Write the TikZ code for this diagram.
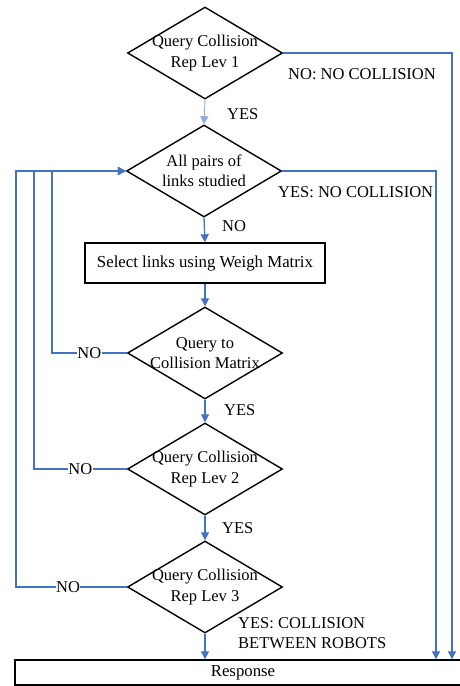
\documentclass[tikz,border=0pt]{standalone}
\usepackage{fontspec}
\setmainfont{Liberation Serif}
\usetikzlibrary{shapes.geometric,arrows.meta}
\definecolor{flowblue}{HTML}{4472C4}
\definecolor{lightflow}{HTML}{8FAADC}
\tikzset{
  dia/.style={draw=black, line width=1.4pt, shape=diamond, inner sep=0pt,
    minimum width=155pt, minimum height=92pt},
  dtext/.style={align=center, font=\fontsize{16.5}{20.5}\selectfont, inner sep=0pt},
  boxnode/.style={draw=black, line width=1.4pt, inner sep=0pt, font=\fontsize{16.8}{19}\selectfont},
  flow/.style={draw=flowblue, line width=1.3pt, -{Triangle[length=8pt,width=8pt]}},
  lab/.style={font=\fontsize{16.5}{19.5}\selectfont, inner sep=0pt, align=left},
  nolab/.style={font=\fontsize{16.5}{19}\selectfont, fill=white, inner sep=0.5pt}
}
\begin{document}
\begin{tikzpicture}[x=1pt,y=-1pt]
\clip (0,0) rectangle (460,686);
\fill[white] (0,0) rectangle (460,686);

% decisions
\node[dia, label={[dtext]center:{Query Collision\\Rep Lev 1}}] (d1) at (205,53) {};
\node[dia, label={[dtext]center:{All pairs of\\links studied}}] (d2) at (204,171) {};
\node[boxnode, minimum width=240pt, minimum height=40pt] (sel) at (205,263) {Select links using Weigh Matrix};
\node[dia, label={[dtext]center:{Query to\\Collision Matrix}}] (d3) at (205,353) {};
\node[dia, label={[dtext]center:{Query Collision\\Rep Lev 2}}] (d4) at (205,469) {};
\node[dia, label={[dtext]center:{Query Collision\\Rep Lev 3}}] (d5) at (205,587) {};
\node[boxnode, minimum width=456pt, minimum height=25pt] (resp) at (243,672.5) {Response};

% right-hand exits
\coordinate (r1) at (452,53);
\coordinate (r2) at (436,171);
\draw[flow] (d1.east) -- (r1) -- (r1 |- resp.north);
\draw[flow] (d2.east) -- (r2) -- (r2 |- resp.north);
\node[lab, anchor=west] (t1) at (288,74) {NO: NO COLLISION};
\node[lab, anchor=west] (t2) at (278,192) {YES: NO COLLISION};

% main downward flow
\draw[flow, draw=lightflow, line width=0.9pt] (d1.south) -- (d2.north);
\node[lab, anchor=west] (y1) at (227,114) {YES};
\draw[flow] (d2.south) -- (sel.north);
\node[lab, anchor=west] (n1) at (222,226) {NO};
\draw[flow] (sel.south) -- (d3.north);
\draw[flow] (d3.south) -- (d4.north);
\node[lab, anchor=west] (y2) at (224,410) {YES};
\draw[flow] (d4.south) -- (d5.north);
\node[lab, anchor=west] (y3) at (222,528) {YES};
\draw[flow] (d5.south) -- (d5.south |- resp.north);
\node[lab, anchor=west] (t3) at (238,633) {YES: COLLISION\\BETWEEN ROBOTS};

% loops back
\coordinate (l3) at (52,353);
\coordinate (l4) at (34,469);
\coordinate (l5) at (16,587);
\draw[flow] (d3.west) -- node[nolab] {NO} (l3) |- (d2.west);
\draw[flow] (d4.west) -- node[nolab, pos=0.5] {NO} (l4) |- (d2.west);
\draw[flow] (d5.west) -- node[nolab, pos=0.53] {NO} (l5) |- (d2.west);
\end{tikzpicture}
\end{document}
